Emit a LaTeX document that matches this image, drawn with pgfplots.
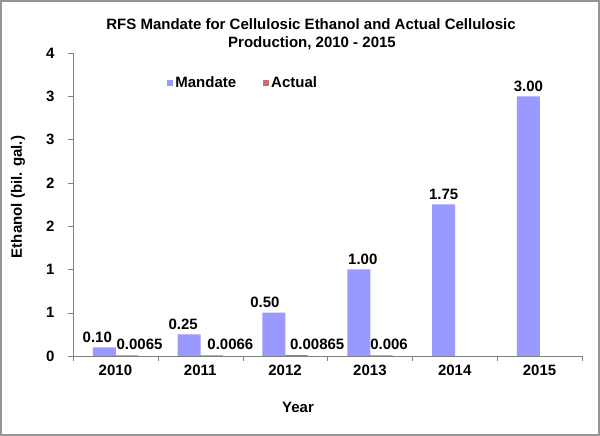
\documentclass[border=0pt]{standalone}
\usepackage{pgfplots}
\pgfplotsset{compat=1.18}
\usepackage{pgfplotstable}
\usepackage{fontspec}
\setmainfont{Liberation Sans}

\definecolor{mandate}{RGB}{153,153,255}
\definecolor{actual}{RGB}{200,112,112}
\definecolor{axisgray}{RGB}{128,128,128}
\definecolor{framegray}{RGB}{150,150,150}

\newcommand{\cf}{\fontsize{15}{18}\selectfont\bfseries}

\pgfplotsset{sq legend/.style={legend image code/.code={\fill[##1,draw=none] (0pt,-3pt) rectangle (6pt,3pt);}}}

% mandate values, label x-shift (pt)
\pgfplotstableread{
x mandate ms
0 0.10 -7
1 0.25 -6
2 0.50 -9
3 1.00 4
4 1.75 0
5 3.00 0
}\mandatedata

% actual production, label text, label x-shift (pt)
\pgfplotstableread{
x actual lab as
0 0.0065 0.0065 13
1 0.0066 0.0066 19
2 0.00865 0.00865 21
3 0.006 0.006 8
}\actualdata

\begin{document}
\begin{tikzpicture}
\fill[white] (0,0) rectangle (600pt,436pt);
\useasboundingbox (0,0) rectangle (600pt,436pt);
\begin{axis}[
	at={(73pt,80pt)}, anchor=south west,
	scale only axis, width=509pt, height=303pt,
	ybar=-0.8pt, bar width=23pt,
	xmin=-0.5, xmax=5.5, ymin=0, ymax=3.5,
	axis lines*=left,
	axis line style={axisgray},
	xtick={0,...,5},
	xticklabels={2010,2011,2012,2013,2014,2015},
	minor xtick={-0.5,0.5,...,5.5},
	major x tick style={draw=none},
	ytick={0,0.5,...,3.5},
	yticklabels={0,1,1,2,2,3,3,4},
	tick align=outside,
	major tick length=5pt, minor tick length=5pt,
	tick style={axisgray},
	ticklabel style={font=\cf},
	yticklabel style={xshift=-10pt},
	/pgf/number format/assume math mode=true,
	legend style={draw=none, fill=none, inner sep=0pt,
		at={(axis description cs:0.185,0.901)}, anchor=west,
		font=\cf,
		/tikz/every even column/.append style={column sep=25pt}},
	legend columns=2,
]
\addplot[fill=mandate, draw=none, sq legend,
	nodes near coords={\pgfmathprintnumber[fixed,fixed zerofill,precision=2,assume math mode=true]{\pgfplotspointmeta}},
	visualization depends on={\thisrow{ms} \as \lshift},
	every node near coord/.append style={font=\cf, xshift=\lshift*1pt, yshift=1.5pt}]
	table[x=x, y=mandate] {\mandatedata};
\addplot[fill=actual, draw=none, sq legend,
	point meta=explicit symbolic,
	nodes near coords,
	visualization depends on={\thisrow{as} \as \ashift},
	every node near coord/.append style={font=\cf, xshift=\ashift*1pt, yshift=2.5pt}]
	table[x=x, y=actual, meta=lab] {\actualdata};
\legend{Mandate,Actual}
\end{axis}
\node[font=\cf, anchor=base] at (311pt,406.7pt) {RFS Mandate for Cellulosic Ethanol and Actual Cellulosic};
\node[font=\cf, anchor=base] at (312pt,388.7pt) {Production, 2010 - 2015};
\node[font=\cf, anchor=base] at (298pt,23.3pt) {Year};
\node[font=\cf, rotate=90] at (18pt,239pt) {Ethanol (bil. gal.)};
\draw[framegray, line width=2pt] (1pt,1pt) rectangle (599pt,435pt);
\end{tikzpicture}
\end{document}
